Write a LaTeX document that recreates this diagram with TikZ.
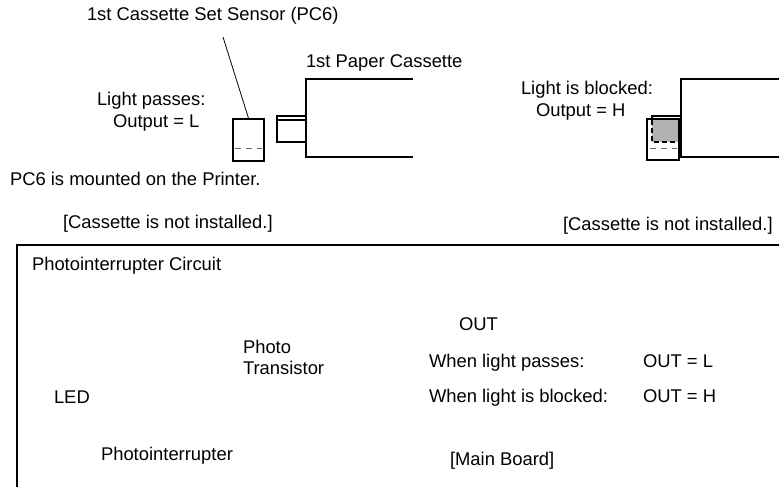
\documentclass[tikz,border=0pt]{standalone}
\usepackage{fontspec}
\setmainfont{Liberation Sans}
\tikzset{
  lab/.style={anchor=base west,inner sep=0pt,outer sep=0pt,font=\fontsize{18.4}{21}\selectfont,align=left},
  heavy/.style={line width=1.5pt},
  thin line/.style={line width=0.8pt},
  dash line/.style={line width=1pt,dash pattern=on 6pt off 5pt,black!60},
  dash heavy/.style={line width=1.5pt,dash pattern=on 5pt off 3pt}
}
\begin{document}
\begin{tikzpicture}[x=1pt,y=-1pt]
\useasboundingbox (0,0) rectangle (779,487);
% left
\node[lab] (t1) at (87,21) {1st Cassette Set Sensor (PC6)};
\node[lab] (t2) at (306,67) {1st Paper Cassette};
\node[lab] (t3) at (97,106) {Light passes:};
\node[lab] (t4) at (113,127) {Output = L};
\node[lab] (t5) at (10,185) {PC6 is mounted on the Printer.};
\node[lab] (t6) at (63,228) {[Cassette is not installed.]};
\node[lab] (t7) at (521,95) {Light is blocked:};
\node[lab] (t8) at (536,116) {Output = H};
\node[lab] (t9) at (563,230) {[Cassette is not installed.]};
\coordinate (leadA) at (223,37);
\node[draw,heavy,minimum width=31pt,minimum height=42pt,inner sep=0pt] (sensorL) at (248.5,140) {};
\draw[thin line] (leadA) -- (sensorL.north);
\draw[dash line] (235,148) -- (262,148);
\draw[heavy] (413,79) -- (306,79) -- (306,157) -- (413,157);
\draw[heavy] (306,116) -- (277,116) -- (277,142) -- (306,142);
\draw[heavy] (277,120) -- (306,120);
% right
\fill[black!30] (652,120) rectangle (680,142);
\draw[heavy] (779,79) -- (681,79) -- (681,157) -- (779,157);
\node[draw,heavy,minimum width=32pt,minimum height=41pt,inner sep=0pt] (sensorR) at (663,139.5) {};
\draw[dash line] (650,148) -- (677,148);
\draw[dash heavy] (652,120) -- (652,142) -- (681,142);
\draw[heavy] (652,119) -- (652,116) -- (681,116);
% lower box
\draw[heavy] (779,245) -- (17,245) -- (17,487);
\node[lab] (c1) at (32,270) {Photointerrupter Circuit};
\node[lab] (c2) at (459,330) {OUT};
\node[lab] (c3) at (243,353) {Photo};
\node[lab] (c4) at (243,374) {Transistor};
\node[lab] (c5) at (429,367) {When light passes:};
\node[lab] (c6) at (643,367) {OUT = L};
\node[lab] (c7) at (429,402) {When light is blocked:};
\node[lab] (c8) at (643,402) {OUT = H};
\node[lab] (c9) at (54,403) {LED};
\node[lab] (c10) at (101,460) {Photointerrupter};
\node[lab] (c11) at (450,465) {[Main Board]};
\end{tikzpicture}
\end{document}
